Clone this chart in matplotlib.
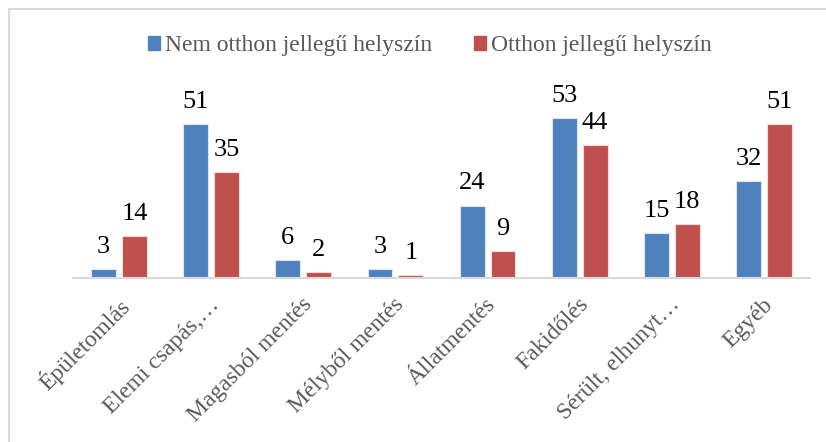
import matplotlib
matplotlib.use("Agg")
import matplotlib.pyplot as plt
import matplotlib.transforms as mtransforms
import numpy as np
from matplotlib.patches import Rectangle
from matplotlib.lines import Line2D

categories = ["Épületomlás", "Elemi csapás,…", "Magasból mentés", "Mélyből mentés",
              "Állatmentés", "Fakidőlés", "Sérült, elhunyt…", "Egyéb"]
nem_otthon = [3, 51, 6, 3, 24, 53, 15, 32]
otthon = [14, 35, 2, 1, 9, 44, 18, 51]
series_names = ["Nem otthon jellegű helyszín", "Otthon jellegű helyszín"]
colors = ["#4F81BD", "#C0504D"]

plt.rcParams['font.family'] = ['Liberation Serif', 'DejaVu Serif']

W, H = 826, 442
fig = plt.figure(figsize=(W / 100, H / 100), dpi=100)
ax = fig.add_axes([73 / W, 1 - 278 / H, (810 - 73) / W, (278 - 97) / H])

x = np.arange(len(categories))
bw = 0.27
off = 0.167
b1 = ax.bar(x - off, nem_otthon, bw, color=colors[0], edgecolor="#DCE6F2", linewidth=0.8)
b2 = ax.bar(x + off, otthon, bw, color=colors[1], edgecolor="#F2DCDB", linewidth=0.8)

for bars, vals in ((b1, nem_otthon), (b2, otthon)):
    for r, v in zip(bars, vals):
        ax.annotate(str(v), (r.get_x() + r.get_width() / 2, v), xytext=(0, 8),
                    textcoords="offset points", ha="center", va="bottom",
                    fontsize=19, color="black")

ax.set_xlim(-0.5, len(categories) - 0.5)
ax.set_ylim(0, 60)
ax.set_yticks([])
for s in ["top", "right", "left"]:
    ax.spines[s].set_visible(False)
ax.spines["bottom"].set_color("#D9D9D9")
ax.spines["bottom"].set_linewidth(1.5)
ax.set_xticks(x)
ax.set_xticklabels(categories, rotation=45, ha="right", va="top", rotation_mode="anchor",
                   fontsize=17, color="#595959")
ax.tick_params(axis="x", length=0, pad=8)
shift = mtransforms.ScaledTranslation(-2 / 100, -5 / 100, fig.dpi_scale_trans)
for lbl in ax.get_xticklabels():
    lbl.set_transform(lbl.get_transform() + shift)

handles = [Rectangle((0, 0), 1, 1, color=c) for c in colors]
leg = fig.legend(handles, series_names, loc="center", bbox_to_anchor=(430 / W, 1 - 46 / H),
                 ncol=2, frameon=False, fontsize=17, handlelength=0.5, handleheight=0.5,
                 handletextpad=0.2, columnspacing=1.8)
for t in leg.get_texts():
    t.set_color("#595959")

# outer chart border
fig.add_artist(Line2D([9 / W, 1.0], [1 - 9 / H, 1 - 9 / H], transform=fig.transFigure,
                      color="#D9D9D9", linewidth=1.5))
fig.add_artist(Line2D([9 / W, 9 / W], [0, 1 - 9 / H], transform=fig.transFigure,
                      color="#D9D9D9", linewidth=1.5))

fig.savefig("out.png", dpi=100)
